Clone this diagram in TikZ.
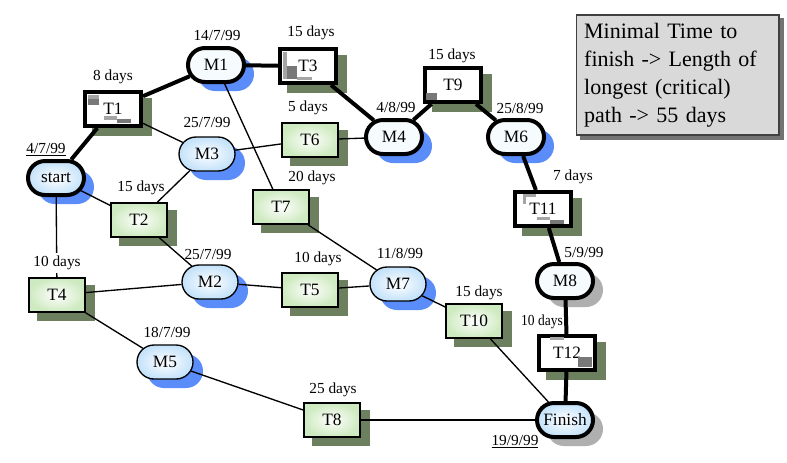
\documentclass[tikz,border=0pt]{standalone}
\usepackage{fontspec}
\setmainfont{Liberation Serif}
\usetikzlibrary{shapes.misc}
\pgfdeclarelayer{paperlayer}
\pgfdeclarelayer{shadowlayer}
\pgfdeclarelayer{edgelayer}
\pgfsetlayers{paperlayer,shadowlayer,edgelayer,main}
\definecolor{mshadow}{RGB}{90,140,250}
\definecolor{tshadow}{RGB}{108,128,96}
\definecolor{gshadow}{RGB}{175,175,175}
\definecolor{mfill}{RGB}{196,226,250}
\definecolor{mcrit}{RGB}{246,251,254}
\definecolor{tfill}{RGB}{206,234,192}
\definecolor{patchA}{RGB}{120,120,120}
\definecolor{patchB}{RGB}{165,165,165}
\definecolor{boxgray}{RGB}{217,217,217}
\tikzset{
  msize/.style={rounded rectangle, minimum width=42pt, minimum height=25.5pt, inner sep=0pt},
  tsize/.style={rectangle, minimum width=42pt, minimum height=25.5pt, inner sep=0pt},
  mnode/.style={msize, draw, line width=1pt, inner color=white, outer color=mfill, font=\fontsize{13}{14}\selectfont},
  mcritnode/.style={msize, draw, line width=3pt, fill=mcrit, font=\fontsize{13}{14}\selectfont},
  mendnode/.style={msize, draw, line width=3pt, inner color=white, outer color=mfill, font=\fontsize{13}{14}\selectfont},
  tnode/.style={tsize, draw, line width=1.2pt, inner color=white, outer color=tfill, font=\fontsize{13}{14}\selectfont},
  tcritnode/.style={tsize, draw, line width=3pt, fill=white, font=\fontsize{13}{14}\selectfont},
  lbl/.style={font=\fontsize{11.5}{13}\selectfont, inner sep=0pt},
  thinedge/.style={line width=1pt},
  critedge/.style={line width=3pt},
  mshad/.style={msize, fill=mshadow},
  gshad/.style={msize, fill=gshadow},
}
\begin{document}
\begin{tikzpicture}[x=0.75pt,y=-0.75pt]
\useasboundingbox (0,0) rectangle (787,462);
\begin{pgfonlayer}{paperlayer}
\fill[white] (0,0) rectangle (787,462);
\end{pgfonlayer}
% milestones
\node[mendnode] (start) at (56,178) {start};
\node[mcritnode] (M1) at (216,65) {M1};
\node[mnode] (M3) at (207,154) {M3};
\node[mcritnode] (M4) at (394,137) {M4};
\node[mcritnode] (M6) at (516,137) {M6};
\node[mcritnode] (M8) at (565,281) {M8};
\node[mendnode] (Finish) at (565,420) {Finish};
\node[mnode] (M7) at (398,284) {M7};
\node[mnode] (M2) at (210,282) {M2};
\node[mnode] (M5) at (165,362) {M5};
% tasks
\node[tcritnode] (T1) at (113,109) {T1};
\node[tcritnode] (T3) at (308,66) {T3};
\node[tcritnode] (T9) at (453,85) {T9};
\node[tcritnode] (T11) at (543,209) {T11};
\node[tcritnode] (T12) at (567,353) {T12};
\node[tnode] (T6) at (310,140) {T6};
\node[tnode] (T7) at (281,207) {T7};
\node[tnode] (T5) at (310,290) {T5};
\node[tnode] (T2) at (139,220) {T2};
\node[tnode] (T4) at (57,295) {T4};
\node[tnode] (T10) at (474,321) {T10};
\node[tnode] (T8) at (332,420) {T8};
% note box
\node[draw=black!75, line width=1pt, fill=boxgray, minimum width=152pt, minimum height=90pt,
      text width=140pt, align=left, inner sep=4pt, font=\fontsize{16.5}{21}\selectfont] (note) at (677.5,75)
      {Minimal Time to\\finish -> Length of\\longest (critical)\\path -> 55 days};
% shadows
\begin{pgfonlayer}{shadowlayer}
  \foreach \n in {start,M1,M3,M4,M6,M7,M2,M5}
    \node[mshad] at ([shift={(10,9)}]\n.center) {};
  \foreach \n in {M8,Finish}
    \node[gshad] at ([shift={(10,9)}]\n.center) {};
  \foreach \n in {T1,T3,T9,T11,T12,T6,T7,T5,T2,T4,T10,T8}
    \fill[tshadow] ([shift={(9,8)}]\n.north west) rectangle ([shift={(9,8)}]\n.south east);
  \fill[black!55] ([shift={(4,4)}]note.north west) rectangle ([shift={(4,4)}]note.south east);
\end{pgfonlayer}
% edges
\begin{pgfonlayer}{edgelayer}
  \draw[critedge] (start) -- (T1);
  \draw[critedge] (T1) -- (M1);
  \draw[critedge] (M1) -- (T3);
  \draw[critedge] (T3) -- (M4);
  \draw[critedge] (M4) -- (T9);
  \draw[critedge] (T9) -- (M6);
  \draw[critedge] (M6) -- (T11);
  \draw[critedge] (T11) -- (M8);
  \draw[critedge] (M8) -- (T12);
  \draw[critedge] (T12) -- (Finish);
  \draw[thinedge] (T1) -- (M3);
  \draw[thinedge] (start) -- (T2);
  \draw[thinedge] (start) -- (T4);
  \draw[thinedge] (M3) -- (T2);
  \draw[thinedge] (M3) -- (T6);
  \draw[thinedge] (T6) -- (M4);
  \draw[thinedge] (M1) -- (T7);
  \draw[thinedge] (T7) -- (M7);
  \draw[thinedge] (T2) -- (M2);
  \draw[thinedge] (T4) -- (M2);
  \draw[thinedge] (M2) -- (T5);
  \draw[thinedge] (T5) -- (M7);
  \draw[thinedge] (M7) -- (T10);
  \draw[thinedge] (T10) -- (Finish);
  \draw[thinedge] (T4) -- (M5);
  \draw[thinedge] (M5) -- (T8);
  \draw[thinedge] (T8) -- (Finish);
\end{pgfonlayer}
% gray patches in critical tasks
\fill[patchB] ([shift={(5,5)}]T1.north west) rectangle ([shift={(16,9)}]T1.north west);
\fill[patchA] ([shift={(5,9)}]T1.north west) rectangle ([shift={(16,15)}]T1.north west);
\fill[patchB] ([shift={(21,26)}]T1.north west) rectangle ([shift={(34,30)}]T1.north west);
\fill[patchA] ([shift={(34,29)}]T1.north west) rectangle ([shift={(48,33)}]T1.north west);
\fill[patchB] ([shift={(5,5)}]T3.north west) rectangle ([shift={(9,32)}]T3.north west);
\fill[patchA] ([shift={(9,19)}]T3.north west) rectangle ([shift={(19,32)}]T3.north west);
\fill[patchB] ([shift={(19,30)}]T3.north west) rectangle ([shift={(34,33)}]T3.north west);
\fill[patchA] ([shift={(3,27)}]T9.north west) rectangle ([shift={(14,34)}]T9.north west);
\fill[patchB] ([shift={(10,4)}]T11.north west) rectangle ([shift={(23,7)}]T11.north west);
\fill[patchB] ([shift={(10,4)}]T11.north west) rectangle ([shift={(13,14)}]T11.north west);
\fill[patchB] ([shift={(24,27)}]T11.north west) rectangle ([shift={(37,30)}]T11.north west);
\fill[patchA] ([shift={(37,30)}]T11.north west) rectangle ([shift={(51,34)}]T11.north west);
\fill[patchB] ([shift={(13,3)}]T12.north west) rectangle ([shift={(27,6)}]T12.north west);
\fill[patchA] ([shift={(41,23)}]T12.north west) rectangle ([shift={(55,33)}]T12.north west);
% labels
\node[lbl] (l1) at (46,150) {\underline{4/7/99}};
\node[lbl] (l2) at (113,77) {8 days};
\node[lbl] (l3) at (217,35) {14/7/99};
\node[lbl] (l4) at (311,33) {15 days};
\node[lbl] (l5) at (207,122) {25/7/99};
\node[lbl] (l6) at (308,108) {5 days};
\node[lbl] (l7) at (396,107) {4/8/99};
\node[lbl] (l8) at (452,56) {15 days};
\node[lbl] (l9) at (520,108) {25/8/99};
\node[lbl] (l10) at (573,177) {7 days};
\node[lbl] (l11) at (312,178) {20 days};
\node[lbl] (l12) at (141,188) {15 days};
\node[lbl] (l13) at (400,253) {11/8/99};
\node[lbl] (l14) at (318,259) {10 days};
\node[lbl] (l15) at (208,254) {25/7/99};
\node[lbl, fill=white, inner ysep=2pt] (l16) at (57,263) {10 days};
\node[lbl] (l17) at (167,332) {18/7/99};
\node[lbl] (l18) at (479,293) {15 days};
\node[lbl] (l19) at (584,252) {5/9/99};
\node[lbl, xscale=0.88] (l20) at (542,322) {10 days};
\node[lbl] (l21) at (333,390) {25 days};
\node[lbl] (l22) at (515,442) {\underline{19/9/99}};
\end{tikzpicture}
\end{document}
